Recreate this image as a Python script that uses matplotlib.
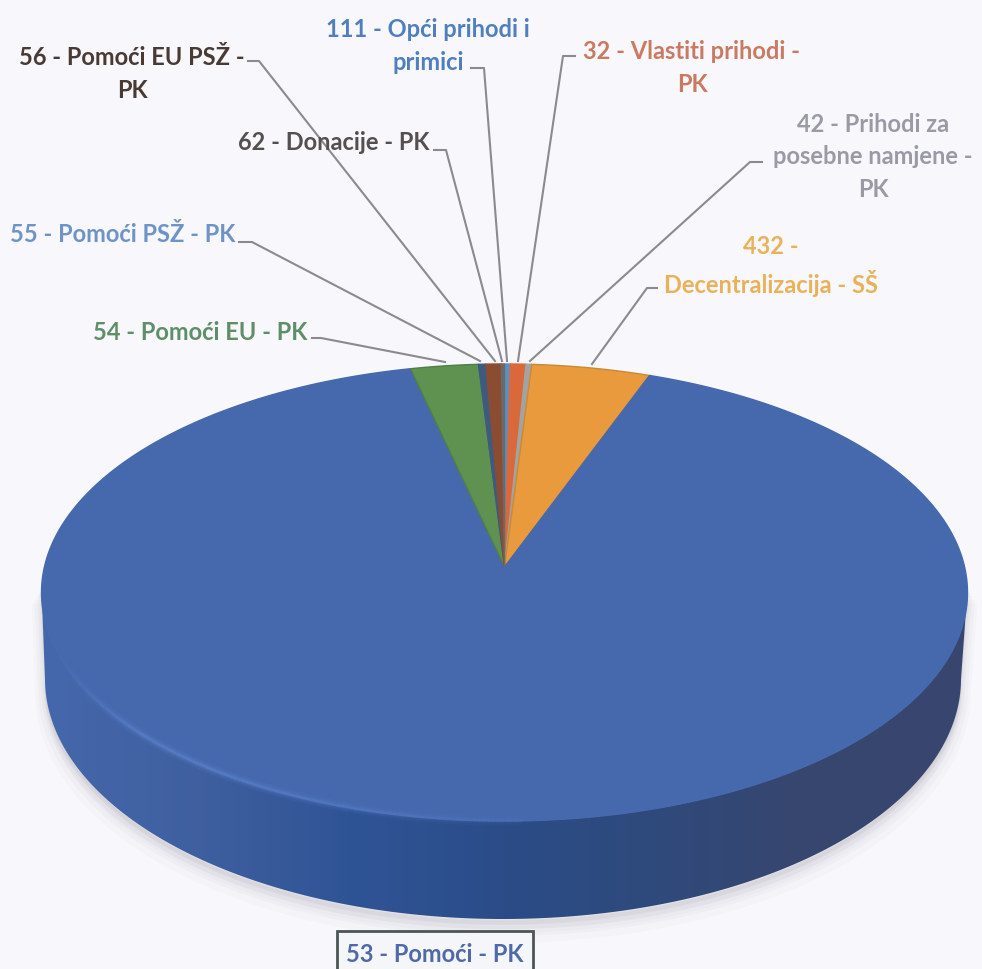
import numpy as np
import matplotlib
matplotlib.use('Agg')
import matplotlib.pyplot as plt
from matplotlib.collections import LineCollection
from matplotlib.colors import LinearSegmentedColormap
from matplotlib.patches import Polygon, Rectangle

# shares in percent, clockwise from the top of the pie
codes = ['111', '32', '42', '432', '53', '54', '55', '56', '62']
shares = [0.22, 0.61, 0.22, 4.61, 90.7, 2.64, 0.28, 0.60, 0.12]
slice_colours = ['#5b8fc8', '#d9693a', '#a3a3a3', '#e89a3c', '#4669ae',
                 '#5f9250', '#3f5a80', '#8a4d32', '#6a6a6a']
edge_colours = ['#5b8fc8', '#d9693a', '#a3a3a3', '#c98a35', '#4669ae',
                '#4f7f45', '#3f5a80', '#8a4d32', '#6a6a6a']

labels = {
    '111': '111 - Opći prihodi i\nprimici',
    '32': '32 - Vlastiti prihodi -\nPK',
    '42': '42 - Prihodi za\nposebne namjene -\nPK',
    '432': '432 -\nDecentralizacija - SŠ',
    '53': '53 - Pomoći - PK',
    '54': '54 - Pomoći EU - PK',
    '55': '55 - Pomoći PSŽ - PK',
    '56': '56 - Pomoći EU PSŽ -\nPK',
    '62': '62 - Donacije - PK',
}
label_colours = {
    '111': '#4f7fc0', '32': '#c97a60', '42': '#9a9aa6', '432': '#e9b25a',
    '53': '#4f6aa8', '54': '#5f8f68', '55': '#6e93c7', '56': '#4a3a34',
    '62': '#55504f',
}

# layout, in pixels of the picture
label_pos = {
    '111': (428, 46), '32': (692, 68), '42': (873, 157), '432': (771, 266),
    '53': (435, 955), '54': (200, 333), '55': (123, 234), '56': (132, 74),
    '62': (334, 143),
}
leaders = {
    '54': [(312, 339), (321, 339), (445, 363)],
    '55': [(239, 243), (252, 243), (480, 362)],
    '56': [(248, 62), (259, 62), (495, 362)],
    '62': [(434, 151), (446, 151), (502, 362)],
    '111': [(471, 69), (484, 69), (507, 362)],
    '32': [(575, 57), (563, 57), (518, 362)],
    '42': [(762, 163), (750, 163), (530, 362)],
    '432': [(657, 289), (647, 289), (592, 365)],
}

CX, AY = 504.5, 568
K, SY, SX = 0.1116, 225.7, 460.1
BG = '#f7f7fc'


def project(theta):
    """ Unit circle on to the tilted top of the pie, theta clockwise from the top """
    w = 1 + K * np.cos(theta)
    return CX + SX * np.sin(theta) / w, AY - SY * np.cos(theta) / w


fig = plt.figure(figsize=(9.82, 9.70), dpi=100, facecolor=BG)
ax = fig.add_axes([0, 0, 1, 1])
ax.set_xlim(0, 982)
ax.set_ylim(970, 0)
ax.axis('off')

# outline of the wall: front half of the top edge joined to the bottom edge
t = np.linspace(0, np.pi, 200)
bottom_x = 503 + 458 * np.cos(t)
bottom_y = 680 + 240 * np.sin(t)
top_x, top_y = project(np.linspace(np.pi / 2 - 0.1, -np.pi / 2 + 0.1, 200) + np.pi)
wall = np.column_stack([np.r_[bottom_x, top_x], np.r_[bottom_y, top_y]])

# soft shadow below the pie
for grow, alpha in [(14, 0.03), (10, 0.04), (6, 0.05), (3, 0.06)]:
    ax.fill(wall[:, 0], wall[:, 1] + grow, color='#8a8490', alpha=alpha, lw=grow, zorder=1)

# wall, darker towards the right
wall_cmap = LinearSegmentedColormap.from_list('wall', [
    (0.0, '#4568ac'), (0.17, '#3f5f9f'), (0.33, '#2f5496'), (0.5, '#2b4c88'),
    (0.66, '#2f4a7c'), (0.82, '#37466f'), (1.0, '#39476f')])
img = ax.imshow(np.linspace(0, 1, 256).reshape(1, -1), cmap=wall_cmap, aspect='auto',
                extent=(40, 968, 925, 590), zorder=2, interpolation='bilinear')
ax.set_xlim(0, 982)
ax.set_ylim(970, 0)
clip = Polygon(wall, closed=True, transform=ax.transData, fc='none', ec='none')
ax.add_patch(clip)
img.set_clip_path(clip)

# top of the pie
edges = np.r_[0, np.cumsum(shares)] / np.sum(shares) * 2 * np.pi
for start, stop, fc, ec in zip(edges[:-1], edges[1:], slice_colours, edge_colours):
    x, y = project(np.linspace(start, stop, max(int((stop - start) * 80), 4)))
    ax.fill(np.r_[CX, x], np.r_[AY, y], fc=fc, ec=ec, lw=1.0, zorder=3)

# light rim along the front left edge, fading in and out
rim_t = np.linspace(np.radians(258), np.radians(178), 160)
rim_x, rim_y = project(rim_t)
points = np.column_stack([rim_x, rim_y])
segments = np.stack([points[:-1], points[1:]], axis=1)
fade = np.clip((620 - rim_x[:-1]) / 400, 0, 1) * np.clip((rim_x[:-1] - 48) / 90, 0, 1)
for width, strength in [(7, 0.10), (4, 0.16), (2, 0.22)]:
    rim = LineCollection(segments, colors=[(0.42, 0.58, 0.88, a * strength) for a in fade],
                         linewidths=width, zorder=4)
    ax.add_collection(rim)

# leader lines
for code, points in leaders.items():
    ax.plot(*zip(*points), color='#8b8b8f', lw=1.5, zorder=5, solid_joinstyle='round')

# label of the big slice sits in a box cut off by the bottom of the picture
ax.add_patch(Rectangle((337, 932), 196, 44, fc='#f5f6fa', ec='#4c5654', lw=2, zorder=5))

for code in codes:
    ax.text(*label_pos[code], labels[code], color=label_colours[code], fontsize=17,
            family='Lato', weight='bold', ha='center', va='center', linespacing=1.5, zorder=6)

fig.savefig('out.png', dpi=100, facecolor=BG)
